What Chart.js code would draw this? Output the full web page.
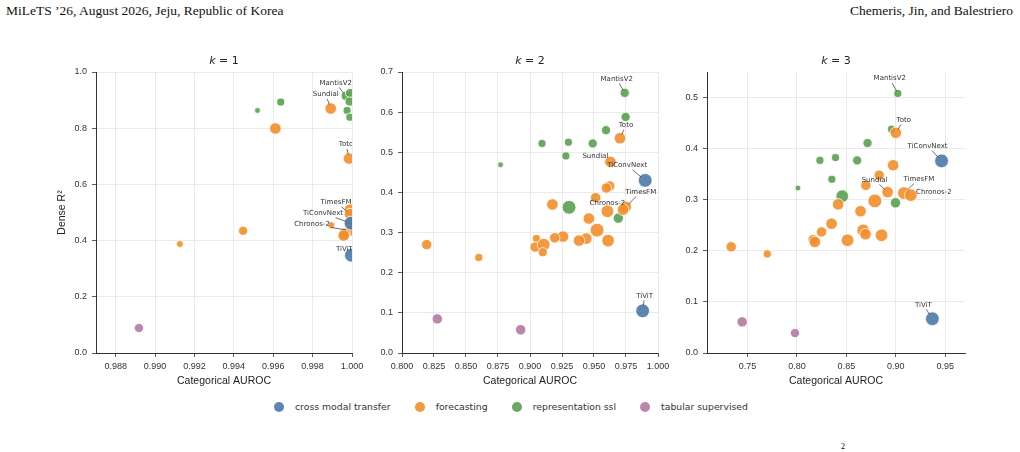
<!DOCTYPE html>
<html>
<head>
<meta charset="utf-8">
<script src="https://cdn.jsdelivr.net/npm/chart.js@4.4.1/dist/chart.umd.min.js"></script>
<style>
  body { margin: 0; background: #fff; width: 1020px; height: 452px; position: relative; overflow: hidden; font-family: "DejaVu Sans", sans-serif; }
  canvas { position: absolute; }
  .hdr { position: absolute; top: 3px; font-family: "Liberation Serif", serif; font-size: 13.5px; color: #111; white-space: nowrap; }
  #legend { position: absolute; left: 274px; top: 401px; display: flex; gap: 24px; font-size: 9.3px; color: #333; align-items: center; }
  .item { display: flex; align-items: center; gap: 11px; }
  .dot { width: 10px; height: 10px; border-radius: 50%; }
</style>
</head>
<body>
<div class="hdr" style="left:6px">MiLeTS ’26, August 2026, Jeju, Republic of Korea</div>
<div class="hdr" style="right:7px">Chemeris, Jin, and Balestriero</div>
<canvas id="k1" width="316" height="339" style="left:56px;top:50px"></canvas>
<canvas id="k2" width="306" height="339" style="left:372px;top:50px"></canvas>
<canvas id="k3" width="308" height="339" style="left:677px;top:50px"></canvas>
<div id="legend"></div>
<div class="hdr" style="left:841px;top:442px;font-size:8px;color:#000">2</div>
<script>
// groups and colours
const groups = ["cross modal transfer", "forecasting", "representation ssl", "tabular supervised"];
const groupColors = ["#4e79a7", "#f28e2b", "#59a14f", "#b07aa1"];

// each point: [Categorical AUROC, Dense R2, model size]
// k = 1
const k1Cross = [[0.99997, 0.348, 6], [0.99995, 0.462, 6]];
const k1Forecast = [
  [0.99892, 0.870, 5], [0.99611, 0.799, 5], [0.99985, 0.692, 5], [0.99990, 0.510, 5],
  [0.99990, 0.494, 5], [0.99895, 0.455, 3], [0.99990, 0.436, 5], [0.99963, 0.424, 5],
  [0.99958, 0.418, 5], [0.99447, 0.435, 4], [0.99126, 0.388, 3]
];
const k1Repr = [
  [0.99520, 0.863, 2.5], [0.99638, 0.893, 3.5], [0.99968, 0.915, 4], [0.99990, 0.925, 4],
  [0.99988, 0.895, 4], [0.99975, 0.863, 3.5], [0.99989, 0.839, 3.5], [0.99990, 0.462, 4],
  [0.99995, 0.444, 5]
];
const k1Tab = [[0.98918, 0.089, 4]];

// k = 2
const k2Cross = [[0.990, 0.430, 6], [0.988, 0.105, 6]];
const k2Forecast = [
  [0.9703, 0.535, 5], [0.9628, 0.476, 5], [0.9623, 0.416, 4.5], [0.9597, 0.411, 4.5],
  [0.9513, 0.387, 4.5], [0.9748, 0.364, 5], [0.9727, 0.357, 5], [0.9605, 0.353, 5.5],
  [0.9460, 0.335, 5], [0.9524, 0.306, 6], [0.9440, 0.285, 5], [0.9383, 0.280, 5],
  [0.9610, 0.280, 5.5], [0.9258, 0.290, 5], [0.9193, 0.287, 4.5], [0.9175, 0.370, 5],
  [0.9050, 0.285, 3.5], [0.9040, 0.264, 4.5], [0.9107, 0.270, 5.5], [0.9100, 0.251, 4],
  [0.8193, 0.270, 4.5], [0.8600, 0.238, 3.5]
];
const k2Repr = [
  [0.9740, 0.648, 4], [0.9747, 0.588, 4], [0.9594, 0.555, 4], [0.9094, 0.522, 3.5],
  [0.9300, 0.525, 3.5], [0.9490, 0.522, 4], [0.9280, 0.491, 3.5], [0.8770, 0.469, 2.5],
  [0.9690, 0.336, 4.5], [0.9305, 0.363, 6]
];
const k2Tab = [[0.8276, 0.085, 4.5], [0.8927, 0.058, 4.5]];

// k = 3
const k3Cross = [[0.9463, 0.376, 6], [0.937, 0.067, 6]];
const k3Forecast = [
  [0.9000, 0.431, 5], [0.8973, 0.3675, 5], [0.8832, 0.348, 4.5], [0.8697, 0.328, 4.5],
  [0.8917, 0.315, 5], [0.9082, 0.313, 5.5], [0.9152, 0.309, 5.5], [0.8788, 0.2977, 6],
  [0.8417, 0.291, 5], [0.8643, 0.2775, 5], [0.8350, 0.253, 5], [0.8249, 0.237, 4.5],
  [0.8164, 0.222, 4.5], [0.8181, 0.2174, 5], [0.8512, 0.2207, 5.5], [0.8670, 0.240, 5.5],
  [0.8694, 0.2324, 5], [0.8856, 0.2305, 5.5], [0.7335, 0.208, 4.5], [0.7700, 0.194, 3.5]
];
const k3Repr = [
  [0.9020, 0.508, 3.5], [0.8957, 0.438, 3.5], [0.8714, 0.411, 4], [0.8232, 0.377, 3.5],
  [0.8390, 0.3826, 3.5], [0.8609, 0.377, 4], [0.8353, 0.340, 3.5], [0.8010, 0.323, 2.5],
  [0.8458, 0.307, 5.5], [0.8997, 0.294, 4.5]
];
const k3Tab = [[0.7446, 0.061, 4.5], [0.7980, 0.039, 4]];

// tick values
const k1XTicks = [0.988, 0.990, 0.992, 0.994, 0.996, 0.998, 1.000];
const k2XTicks = [0.800, 0.825, 0.850, 0.875, 0.900, 0.925, 0.950, 0.975, 1.000];
const k3XTicks = [0.75, 0.80, 0.85, 0.90, 0.95];
const k1YTicks = [0.0, 0.2, 0.4, 0.6, 0.8, 1.0];
const k2YTicks = [0.0, 0.1, 0.2, 0.3, 0.4, 0.5, 0.6, 0.7];
const k3YTicks = [0.0, 0.1, 0.2, 0.3, 0.4, 0.5];

// named models: [name, group index, point index, text dx, text dy]
const k1Labels = [
  ["MantisV2", 2, 2, -10, -13], ["Sundial", 1, 0, -5, -14], ["Toto", 1, 2, -3, -14],
  ["TimesFM", 1, 4, -14, -12], ["TiConvNext", 0, 1, -28, -10], ["Chronos-2", 1, 6, -38, -6],
  ["TiViT", 0, 0, -7, -6]
];
const k2Labels = [
  ["MantisV2", 2, 0, -8, -14], ["Toto", 1, 0, 6, -13], ["Sundial", 1, 1, -15, -6],
  ["TiConvNext", 0, 0, -18, -15], ["TimesFM", 1, 5, 15, -15], ["Chronos-2", 1, 7, 0, -8],
  ["TiViT", 0, 1, 2, -15]
];
const k3Labels = [
  ["MantisV2", 2, 0, -8, -15], ["Toto", 1, 0, 8, -13], ["TiConvNext", 0, 0, -14, -15],
  ["Sundial", 1, 4, -13, -12], ["TimesFM", 1, 5, 15, -14], ["Chronos-2", 1, 6, 23, -3],
  ["TiViT", 0, 1, -9, -14]
];

function rgba(hex, a) {
  const n = parseInt(hex.slice(1), 16);
  return "rgba(" + (n >> 16) + "," + ((n >> 8) & 255) + "," + (n & 255) + "," + a + ")";
}

// draws the model names with a thin leader line
const pointLabels = {
  id: "pointLabels",
  afterDatasetsDraw(chart, args, opts) {
    const ctx = chart.ctx, area = chart.chartArea;
    ctx.save();
    ctx.beginPath();
    ctx.rect(0, 0, area.right, chart.height);
    ctx.clip();
    ctx.font = "7px 'DejaVu Sans'";
    ctx.textAlign = "center";
    ctx.textBaseline = "middle";
    ctx.fillStyle = "#333";
    ctx.strokeStyle = "#333";
    ctx.lineWidth = 0.7;
    opts.labels.forEach(([name, g, i, dx, dy]) => {
      const el = chart.getDatasetMeta(g).data[i];
      const px = el.x, py = el.y, r = el.options.radius;
      const tx = px + dx, ty = py + dy;
      const w = ctx.measureText(name).width / 2 + 1, h = 4.5;
      const vx = px - tx, vy = py - ty, d = Math.hypot(vx, vy);
      const s = Math.min(w / Math.max(Math.abs(vx), 1e-6), h / Math.max(Math.abs(vy), 1e-6));
      if (s < 1 && d - d * s > r) {
        ctx.beginPath();
        ctx.moveTo(tx + vx * s, ty + vy * s);
        ctx.lineTo(px - vx / d * (r - 1.5), py - vy / d * (r - 1.5));
        ctx.stroke();
      }
      ctx.fillText(name, tx, ty);
    });
    ctx.restore();
  }
};

// "k = n" title with italic k
const kTitle = {
  id: "kTitle",
  afterDraw(chart, args, opts) {
    const ctx = chart.ctx, area = chart.chartArea;
    const rest = " = " + opts.value;
    ctx.save();
    ctx.fillStyle = "#222";
    ctx.textBaseline = "middle";
    ctx.font = "italic 11px 'DejaVu Sans'";
    const wk = ctx.measureText("k").width;
    ctx.font = "11px 'DejaVu Sans'";
    const wr = ctx.measureText(rest).width;
    const x0 = (area.left + area.right) / 2 - (wk + wr) / 2;
    const y = area.top - 11;
    ctx.font = "italic 11px 'DejaVu Sans'";
    ctx.textAlign = "left";
    ctx.fillText("k", x0, y);
    ctx.font = "11px 'DejaVu Sans'";
    ctx.fillText(rest, x0 + wk, y);
    ctx.restore();
  }
};

function makePanel(id, k, series, xMin, xMax, xTicks, xDigits, yMax, yTicks, labels, yTitle, yWidth) {
  const datasets = series.map((pts, g) => ({
    label: groups[g],
    data: pts.map(p => ({ x: p[0], y: p[1], r: p[2] * 1.15 })),
    backgroundColor: rgba(groupColors[g], 0.9),
    borderColor: "#ffffff",
    borderWidth: 0.8,
    clip: 0
  }));
  new Chart(document.getElementById(id), {
    type: "bubble",
    data: { datasets: datasets },
    plugins: [pointLabels, kTitle],
    options: {
      responsive: false,
      animation: false,
      events: [],
      layout: { padding: { top: 22, right: 20, left: 0, bottom: 0 } },
      plugins: {
        legend: { display: false },
        tooltip: { enabled: false },
        pointLabels: { labels: labels },
        kTitle: { value: k }
      },
      scales: {
        x: {
          type: "linear",
          min: xMin,
          max: xMax,
          afterBuildTicks: s => { s.ticks = xTicks.map(v => ({ value: v })); },
          afterFit: s => { s.height = 36; },
          ticks: { callback: v => v.toFixed(xDigits), font: { size: 9 }, color: "#333", padding: 4, maxRotation: 0, autoSkip: false },
          grid: { color: "#e4e4e4", lineWidth: 0.8, tickLength: 4, tickColor: "#333", tickWidth: 0.8 },
          border: { color: "#333", width: 1 },
          title: { display: true, text: "Categorical AUROC", font: { size: 10.5 }, color: "#222", padding: { top: 0, bottom: 2 } }
        },
        y: {
          type: "linear",
          min: 0,
          max: yMax,
          afterBuildTicks: s => { s.ticks = yTicks.map(v => ({ value: v })); },
          afterFit: s => { s.width = yWidth; },
          ticks: { callback: v => v.toFixed(1), font: { size: 9 }, color: "#333", padding: 5 },
          grid: { color: "#e4e4e4", lineWidth: 0.8, tickLength: 4, tickColor: "#333", tickWidth: 0.8 },
          border: { color: "#333", width: 1 },
          title: { display: !!yTitle, text: yTitle, font: { size: 10.5 }, color: "#222", padding: { top: 0, bottom: 0 } }
        }
      }
    }
  });
}

makePanel("k1", 1, [k1Cross, k1Forecast, k1Repr, k1Tab], 0.987, 1.0, k1XTicks, 3, 1.0, k1YTicks, k1Labels, "Dense R²", 40);
makePanel("k2", 2, [k2Cross, k2Forecast, k2Repr, k2Tab], 0.8, 1.0, k2XTicks, 3, 0.7, k2YTicks, k2Labels, "", 30);
makePanel("k3", 3, [k3Cross, k3Forecast, k3Repr, k3Tab], 0.709, 0.970, k3XTicks, 2, 0.55, k3YTicks, k3Labels, "", 30);

// shared legend
const legend = document.getElementById("legend");
groups.forEach((name, g) => {
  const item = document.createElement("div");
  item.className = "item";
  const dot = document.createElement("span");
  dot.className = "dot";
  dot.style.background = rgba(groupColors[g], 0.9);
  const txt = document.createElement("span");
  txt.textContent = name;
  item.appendChild(dot);
  item.appendChild(txt);
  legend.appendChild(item);
});
</script>
</body>
</html>
